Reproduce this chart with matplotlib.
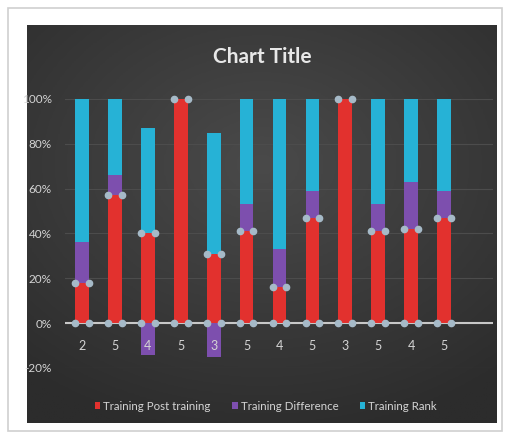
import matplotlib.pyplot as plt
import numpy as np
from matplotlib.patches import Rectangle
from matplotlib.colors import LinearSegmentedColormap

# training scores per person (as percent of total)
categories = ['2', '5', '4', '5', '3', '5', '4', '5', '3', '5', '4', '5']
post_training = [18, 57, 40, 100, 31, 41, 16, 47, 100, 41, 42, 47]
difference = [18, 9, -14, 0, -15, 12, 17, 12, 0, 12, 21, 12]
rank = [64, 34, 47, 0, 54, 47, 67, 41, 0, 47, 37, 41]

red = '#e2312e'
purple = '#7d4fae'
cyan = '#26b2d6'
text_col = '#d4d4d4'
font = 'Lato'

fig = plt.figure(figsize=(5.10, 4.38), dpi=100)
fig.patch.set_facecolor('white')

# outer frame
frame = fig.add_axes([0, 0, 1, 1], zorder=-2)
frame.set_xlim(0, 510)
frame.set_ylim(438, 0)
frame.set_axis_off()
frame.add_patch(Rectangle((8, 8), 494, 423, facecolor='white',
                          edgecolor='#cfcfcf', lw=1.2))
# small handle above the title
frame.add_patch(Rectangle((261, 23), 5, 5, facecolor='white', zorder=5))

# dark chart area with a soft radial gradient
bg = fig.add_axes([27 / 510, 1 - 423 / 438, 470 / 510, 398 / 438], zorder=-1)
yy, xx = np.mgrid[-1:1:200j, -1:1:200j]
r = np.sqrt(xx ** 2 * 0.8 + (yy + 0.3) ** 2)
bg.imshow(r, cmap=LinearSegmentedColormap.from_list('bg', ['#4a4a4a', '#2c2c2c']),
          vmin=0, vmax=1.4, aspect='auto', extent=[0, 1, 0, 1])
bg.set_axis_off()

ax = fig.add_axes([65.5 / 510, 1 - 368 / 438, 428 / 510, 269 / 438], zorder=1)
ax.set_facecolor('none')

x = np.arange(len(categories))
post = np.array(post_training) / 100
diff = np.array(difference) / 100
rnk = np.array(rank) / 100
w = 0.42

ax.bar(x, post, w, color=red, label='Training Post training', zorder=3)
diff_bottom = np.where(diff >= 0, post, 0)
ax.bar(x, diff, w, bottom=diff_bottom, color=purple,
       label='Training Difference', zorder=3)
rank_bottom = post + np.clip(diff, 0, None)
ax.bar(x, rnk, w, bottom=rank_bottom, color=cyan, label='Training Rank',
       zorder=3)

# selection handles on the red series
for xi, p in zip(x, post):
    for dx in (-w / 2, w / 2):
        ax.plot([xi + dx, xi + dx], [0, p], ls='none', marker='o', ms=4.5,
                color='#a6bac8', zorder=5, clip_on=False)

ax.set_xlim(-0.5, 12.5)
ax.set_ylim(-0.2, 1.0)
ax.set_yticks(np.arange(-0.2, 1.01, 0.2))
ax.set_yticklabels(['-20%', '0%', '20%', '40%', '60%', '80%', '100%'],
                   family=font)
ax.yaxis.grid(True, color='#4c4c4c', lw=0.8, zorder=0)
ax.axhline(0, color='#c8c8c8', lw=1.5, zorder=2)
ax.set_xticks([])
for xi, c in zip(x, categories):
    ax.text(xi, -0.1, c, color=text_col, fontsize=9, ha='center',
            va='center', family=font, zorder=6)
ax.tick_params(length=0, colors=text_col, labelsize=8.5)
ax.tick_params(axis='y', pad=10)
for s in ax.spines.values():
    s.set_visible(False)

fig.text(262 / 510, 1 - 57 / 438, 'Chart Title', color='#e8e8e8', fontsize=15,
         fontweight='bold', family=font, ha='center', va='center')

leg = fig.legend(loc='center', bbox_to_anchor=(266 / 510, 1 - 406 / 438),
                 ncol=3, frameon=False, handlelength=0.45,
                 handleheight=0.6, handletextpad=0.25, columnspacing=1.9,
                 prop={'family': font, 'size': 8.3})
for t in leg.get_texts():
    t.set_color(text_col)

fig.savefig('out.png', dpi=100)
